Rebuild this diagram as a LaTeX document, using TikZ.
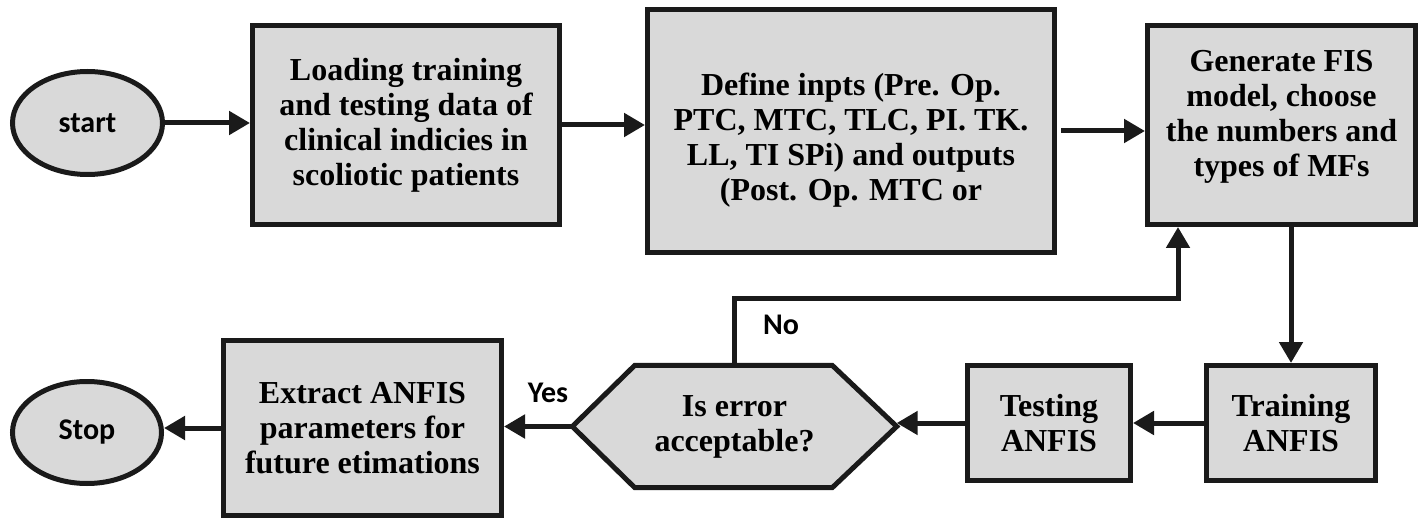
\documentclass[tikz,border=0pt]{standalone}
\usepackage{fontspec}
\setmainfont{Liberation Serif}
\newfontfamily\labfont{Carlito}
\usetikzlibrary{arrows.meta,shapes.geometric,backgrounds}
\definecolor{ink}{HTML}{1A1A1A}
\definecolor{boxgray}{HTML}{D9D9D9}
\tikzset{
  box/.style={draw=ink, fill=boxgray, line width=5pt, inner sep=0pt, align=center,
    font=\bfseries\fontsize{32}{35}\selectfont},
  txt/.style={align=center, inner sep=0pt, font=\bfseries\fontsize{32}{35}\selectfont},
  term/.style={ellipse, draw=ink, fill=boxgray, line width=5pt, inner sep=0pt,
    font=\labfont\bfseries\fontsize{30}{36}\selectfont},
  arr/.style={draw=ink, line width=5pt, -{Triangle[length=21pt,width=23pt]}},
  lbl/.style={inner sep=0pt, font=\labfont\bfseries\fontsize{30}{36}\selectfont},
}
\begin{document}
\begin{tikzpicture}[x=1pt,y=-1pt]
\useasboundingbox (0,0) rectangle (1426,521);

% top row
\node[term, minimum width=150pt, minimum height=103pt] (start) at (87.5,123) {start};
\node[box, minimum width=307pt, minimum height=199pt] (box1) at (406,125)
  {Loading training\\and testing data of\\clinical indicies in\\scoliotic patients};
\node[box, minimum width=407pt, minimum height=243pt] (box2) at (851,131) {};
\node[txt] (box2t) at (851,140)
  {Define inpts (Pre. Op.\\PTC, MTC, TLC, PI. TK.\\LL, TI SPi) and outputs\\(Post. Op. MTC or};
\node[box, minimum width=268pt, minimum height=199pt] (box3) at (1281.5,125) {};
\node[txt] (box3t) at (1281.5,117)
  {Generate FIS\\model, choose\\the numbers and\\types of MFs};

% bottom row
\node[box, minimum width=169pt, minimum height=115pt] (train) at (1291,423) {Training\\ANFIS};
\node[box, minimum width=163pt, minimum height=115pt] (test) at (1049,423) {Testing\\ANFIS};
\node[txt, minimum width=324pt, minimum height=122pt] (hex) at (734.5,426.5) {Is error\\acceptable?};
\begin{scope}[on background layer]
  \draw[draw=ink, fill=boxgray, line width=5pt]
    (hex.west) -- ([xshift=62.5pt]hex.north west) -- ([xshift=-64.5pt]hex.north east)
    -- (hex.east) -- ([xshift=-64.5pt]hex.south east) -- ([xshift=62.5pt]hex.south west) -- cycle;
\end{scope}
\node[box, minimum width=278pt, minimum height=175pt] (extract) at (362.5,428)
  {Extract ANFIS\\parameters for\\future etimations};
\node[term, minimum width=149pt, minimum height=102pt] (stop) at (87,432.5) {Stop};

% connectors
\draw[arr] (start.east) -- (start.east -| box1.west);
\draw[arr] (box1.east) -- (box1.east -| box2.west);
\draw[arr] ([xshift=4pt]box2.east) -- (box2.east -| box3.west);
\draw[arr] (train.north |- box3.south) -- (train.north);
\draw[arr] (train.west) -- (train.west -| test.east);
\draw[arr] (test.west) -- (test.west -| hex.east);
\draw[arr] (hex.west) -- (hex.west -| extract.east);
\draw[arr] (extract.west) -- (extract.west -| stop.east);
\coordinate (loopc) at (1178,298);
\draw[arr] (hex.north) |- (loopc) -- (loopc |- box3.south);

% labels
\node[lbl] (yes) at (548,393) {Yes};
\node[lbl] (no) at (781,325) {No};
\end{tikzpicture}
\end{document}
